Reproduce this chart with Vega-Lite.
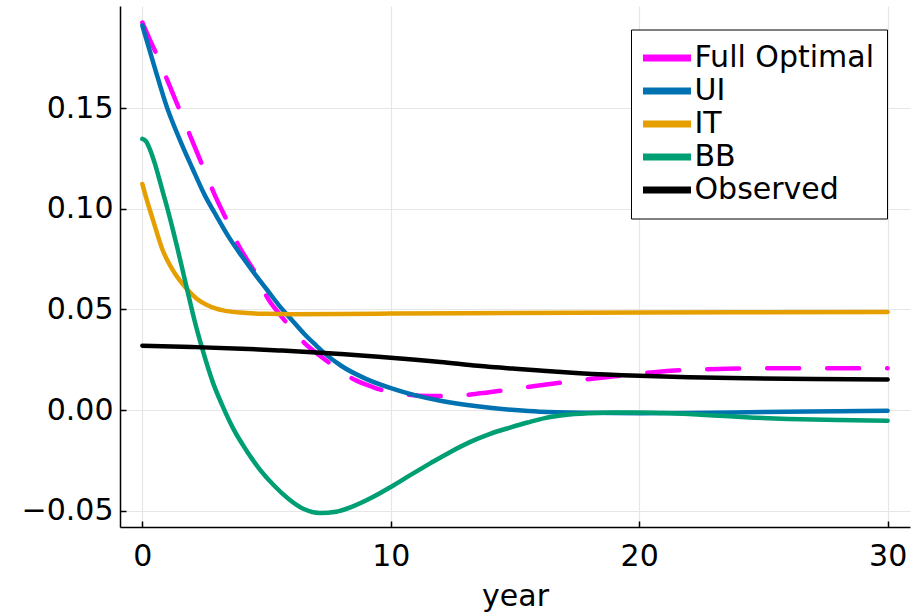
{
  "$schema": "https://vega.github.io/schema/vega-lite/v6.json",
  "width": 790,
  "height": 521,
  "autosize": {"type": "none"},
  "padding": {"left": 120, "top": 6, "right": 2, "bottom": 87},
  "background": "white",
  "config": {
    "font": "DejaVu Sans",
    "view": {"stroke": null},
    "axis": {
      "domainColor": "black",
      "domainWidth": 1.5,
      "tickColor": "black",
      "tickWidth": 1.5,
      "tickSize": -6,
      "gridColor": "#e6e6e6",
      "gridWidth": 1.2,
      "labelFont": "DejaVu Sans",
      "labelFontSize": 30,
      "labelColor": "black",
      "titleFont": "DejaVu Sans",
      "titleFontSize": 30,
      "titleColor": "black",
      "titleFontWeight": "normal"
    }
  },
  "data": {
    "values": [
      {"series": "Full Optimal", "x": 0, "y": 0.1925},
      {"series": "Full Optimal", "x": 0.3, "y": 0.184},
      {"series": "Full Optimal", "x": 0.6, "y": 0.176},
      {"series": "Full Optimal", "x": 1.0, "y": 0.164},
      {"series": "Full Optimal", "x": 1.5, "y": 0.149},
      {"series": "Full Optimal", "x": 2.0, "y": 0.134},
      {"series": "Full Optimal", "x": 2.5, "y": 0.119},
      {"series": "Full Optimal", "x": 3.0, "y": 0.1045},
      {"series": "Full Optimal", "x": 3.45, "y": 0.093},
      {"series": "Full Optimal", "x": 3.8, "y": 0.0835},
      {"series": "Full Optimal", "x": 4.2, "y": 0.075},
      {"series": "Full Optimal", "x": 4.67, "y": 0.0655},
      {"series": "Full Optimal", "x": 5.0, "y": 0.0565},
      {"series": "Full Optimal", "x": 5.5, "y": 0.048},
      {"series": "Full Optimal", "x": 6.0, "y": 0.0405},
      {"series": "Full Optimal", "x": 6.55, "y": 0.033},
      {"series": "Full Optimal", "x": 7.2, "y": 0.0265},
      {"series": "Full Optimal", "x": 7.82, "y": 0.0208},
      {"series": "Full Optimal", "x": 8.55, "y": 0.015},
      {"series": "Full Optimal", "x": 9.3, "y": 0.0113},
      {"series": "Full Optimal", "x": 10.0, "y": 0.0088},
      {"series": "Full Optimal", "x": 10.6, "y": 0.0078},
      {"series": "Full Optimal", "x": 11.5, "y": 0.007},
      {"series": "Full Optimal", "x": 12.4, "y": 0.0069},
      {"series": "Full Optimal", "x": 13.4, "y": 0.008},
      {"series": "Full Optimal", "x": 14.85, "y": 0.0103},
      {"series": "Full Optimal", "x": 15.8, "y": 0.0119},
      {"series": "Full Optimal", "x": 17.3, "y": 0.0143},
      {"series": "Full Optimal", "x": 18.2, "y": 0.0157},
      {"series": "Full Optimal", "x": 19.7, "y": 0.0177},
      {"series": "Full Optimal", "x": 20.6, "y": 0.0188},
      {"series": "Full Optimal", "x": 22.0, "y": 0.02},
      {"series": "Full Optimal", "x": 23.5, "y": 0.0205},
      {"series": "Full Optimal", "x": 25.0, "y": 0.0207},
      {"series": "Full Optimal", "x": 27.5, "y": 0.0208},
      {"series": "Full Optimal", "x": 30.0, "y": 0.0208},

      {"series": "UI", "x": 0, "y": 0.191},
      {"series": "UI", "x": 0.5, "y": 0.17},
      {"series": "UI", "x": 1.0, "y": 0.15},
      {"series": "UI", "x": 1.5, "y": 0.1345},
      {"series": "UI", "x": 2.0, "y": 0.1205},
      {"series": "UI", "x": 2.5, "y": 0.107},
      {"series": "UI", "x": 3.0, "y": 0.096},
      {"series": "UI", "x": 3.5, "y": 0.0855},
      {"series": "UI", "x": 4.0, "y": 0.0765},
      {"series": "UI", "x": 4.5, "y": 0.068},
      {"series": "UI", "x": 5.0, "y": 0.06},
      {"series": "UI", "x": 5.6, "y": 0.0505},
      {"series": "UI", "x": 6.0, "y": 0.045},
      {"series": "UI", "x": 6.5, "y": 0.038},
      {"series": "UI", "x": 7.0, "y": 0.032},
      {"series": "UI", "x": 7.35, "y": 0.028},
      {"series": "UI", "x": 8.0, "y": 0.022},
      {"series": "UI", "x": 9.0, "y": 0.0155},
      {"series": "UI", "x": 10.0, "y": 0.0109},
      {"series": "UI", "x": 11.0, "y": 0.0073},
      {"series": "UI", "x": 12.0, "y": 0.0046},
      {"series": "UI", "x": 13.0, "y": 0.0026},
      {"series": "UI", "x": 14.0, "y": 0.0011},
      {"series": "UI", "x": 15.0, "y": 0.0},
      {"series": "UI", "x": 16.0, "y": -0.0008},
      {"series": "UI", "x": 18.0, "y": -0.0014},
      {"series": "UI", "x": 20.0, "y": -0.0016},
      {"series": "UI", "x": 22.0, "y": -0.0015},
      {"series": "UI", "x": 25.0, "y": -0.001},
      {"series": "UI", "x": 28.0, "y": -0.0006},
      {"series": "UI", "x": 30.0, "y": -0.0004},

      {"series": "IT", "x": 0, "y": 0.1123},
      {"series": "IT", "x": 0.2, "y": 0.1035},
      {"series": "IT", "x": 0.4, "y": 0.0955},
      {"series": "IT", "x": 0.6, "y": 0.0875},
      {"series": "IT", "x": 0.8, "y": 0.08},
      {"series": "IT", "x": 1.0, "y": 0.0745},
      {"series": "IT", "x": 1.25, "y": 0.069},
      {"series": "IT", "x": 1.5, "y": 0.0645},
      {"series": "IT", "x": 1.8, "y": 0.06},
      {"series": "IT", "x": 2.2, "y": 0.0552},
      {"series": "IT", "x": 2.6, "y": 0.0522},
      {"series": "IT", "x": 3.0, "y": 0.0503},
      {"series": "IT", "x": 3.5, "y": 0.049},
      {"series": "IT", "x": 4.2, "y": 0.0482},
      {"series": "IT", "x": 5.0, "y": 0.0478},
      {"series": "IT", "x": 6.0, "y": 0.0476},
      {"series": "IT", "x": 8.0, "y": 0.0477},
      {"series": "IT", "x": 10.0, "y": 0.0479},
      {"series": "IT", "x": 15.0, "y": 0.0482},
      {"series": "IT", "x": 20.0, "y": 0.0484},
      {"series": "IT", "x": 25.0, "y": 0.0486},
      {"series": "IT", "x": 30.0, "y": 0.0487},

      {"series": "BB", "x": 0, "y": 0.1347},
      {"series": "BB", "x": 0.15, "y": 0.1335},
      {"series": "BB", "x": 0.32, "y": 0.129},
      {"series": "BB", "x": 0.5, "y": 0.1225},
      {"series": "BB", "x": 0.66, "y": 0.1157},
      {"series": "BB", "x": 0.83, "y": 0.108},
      {"series": "BB", "x": 1.0, "y": 0.1005},
      {"series": "BB", "x": 1.2, "y": 0.091},
      {"series": "BB", "x": 1.4, "y": 0.081},
      {"series": "BB", "x": 1.6, "y": 0.0705},
      {"series": "BB", "x": 1.8, "y": 0.06},
      {"series": "BB", "x": 2.1, "y": 0.0445},
      {"series": "BB", "x": 2.4, "y": 0.031},
      {"series": "BB", "x": 2.86, "y": 0.013},
      {"series": "BB", "x": 3.2, "y": 0.0028},
      {"series": "BB", "x": 3.67, "y": -0.0095},
      {"series": "BB", "x": 4.2, "y": -0.0203},
      {"series": "BB", "x": 4.74, "y": -0.0297},
      {"series": "BB", "x": 5.3, "y": -0.0375},
      {"series": "BB", "x": 5.9, "y": -0.0443},
      {"series": "BB", "x": 6.5, "y": -0.0492},
      {"series": "BB", "x": 7.15, "y": -0.0512},
      {"series": "BB", "x": 7.8, "y": -0.0505},
      {"series": "BB", "x": 8.4, "y": -0.0482},
      {"series": "BB", "x": 9.2, "y": -0.0437},
      {"series": "BB", "x": 10.0, "y": -0.0382},
      {"series": "BB", "x": 10.8, "y": -0.0322},
      {"series": "BB", "x": 11.6, "y": -0.0264},
      {"series": "BB", "x": 12.4, "y": -0.0208},
      {"series": "BB", "x": 13.2, "y": -0.0158},
      {"series": "BB", "x": 14.0, "y": -0.0118},
      {"series": "BB", "x": 14.8, "y": -0.0087},
      {"series": "BB", "x": 15.5, "y": -0.0062},
      {"series": "BB", "x": 16.2, "y": -0.004},
      {"series": "BB", "x": 17.0, "y": -0.0025},
      {"series": "BB", "x": 18.0, "y": -0.0016},
      {"series": "BB", "x": 19.0, "y": -0.0012},
      {"series": "BB", "x": 20.0, "y": -0.0012},
      {"series": "BB", "x": 21.0, "y": -0.0015},
      {"series": "BB", "x": 22.0, "y": -0.002},
      {"series": "BB", "x": 23.0, "y": -0.0027},
      {"series": "BB", "x": 24.3, "y": -0.0036},
      {"series": "BB", "x": 26.0, "y": -0.0044},
      {"series": "BB", "x": 28.0, "y": -0.005},
      {"series": "BB", "x": 30.0, "y": -0.0053},

      {"series": "Observed", "x": 0, "y": 0.0319},
      {"series": "Observed", "x": 2.0, "y": 0.0313},
      {"series": "Observed", "x": 4.0, "y": 0.0305},
      {"series": "Observed", "x": 5.5, "y": 0.0296},
      {"series": "Observed", "x": 7.0, "y": 0.0286},
      {"series": "Observed", "x": 8.0, "y": 0.0278},
      {"series": "Observed", "x": 9.5, "y": 0.0265},
      {"series": "Observed", "x": 11.0, "y": 0.025},
      {"series": "Observed", "x": 12.0, "y": 0.0239},
      {"series": "Observed", "x": 13.5, "y": 0.022},
      {"series": "Observed", "x": 15.0, "y": 0.0205},
      {"series": "Observed", "x": 16.0, "y": 0.0196},
      {"series": "Observed", "x": 17.6, "y": 0.0183},
      {"series": "Observed", "x": 20.0, "y": 0.017},
      {"series": "Observed", "x": 22.0, "y": 0.0163},
      {"series": "Observed", "x": 24.3, "y": 0.0158},
      {"series": "Observed", "x": 27.0, "y": 0.0154},
      {"series": "Observed", "x": 30.0, "y": 0.0152}
    ]
  },
  "encoding": {
    "x": {
      "field": "x",
      "type": "quantitative",
      "scale": {"domain": [-0.9, 30.9], "nice": false, "zero": false},
      "axis": {"title": "year", "values": [0, 10, 20, 30], "labelPadding": 20, "titlePadding": 10}
    },
    "y": {
      "field": "y",
      "type": "quantitative",
      "scale": {"domain": [-0.0581, 0.2007], "nice": false, "zero": false},
      "axis": {"title": null, "values": [-0.05, 0, 0.05, 0.1, 0.15], "format": ".2f", "labelPadding": 13}
    },
    "color": {
      "field": "series",
      "type": "nominal",
      "scale": {
        "domain": ["Full Optimal", "UI", "IT", "BB", "Observed"],
        "range": ["#ff00ff", "#0072b2", "#e69f00", "#009e73", "#000000"]
      },
      "legend": {
        "title": null,
        "orient": "none",
        "legendX": 511,
        "legendY": 23.5,
        "symbolType": "stroke",
        "symbolSize": 3025,
        "symbolStrokeWidth": 7,
        "symbolDash": [],
        "symbolOffset": -10.5,
        "labelFont": "DejaVu Sans",
        "labelFontSize": 30,
        "labelColor": "black",
        "labelOffset": 0,
        "labelLimit": 400,
        "strokeColor": "black",
        "fillColor": "white",
        "padding": 12,
        "clipHeight": 33,
        "rowPadding": 0
      }
    }
  },
  "layer": [
    {
      "transform": [{"filter": "datum.series === 'Full Optimal'"}],
      "mark": {"type": "line", "strokeWidth": 4.5, "strokeDash": [32, 28], "strokeCap": "round", "interpolate": "monotone"}
    },
    {
      "transform": [{"filter": "datum.series !== 'Full Optimal'"}],
      "mark": {"type": "line", "strokeWidth": 4.5, "strokeCap": "round", "interpolate": "monotone"}
    }
  ]
}
